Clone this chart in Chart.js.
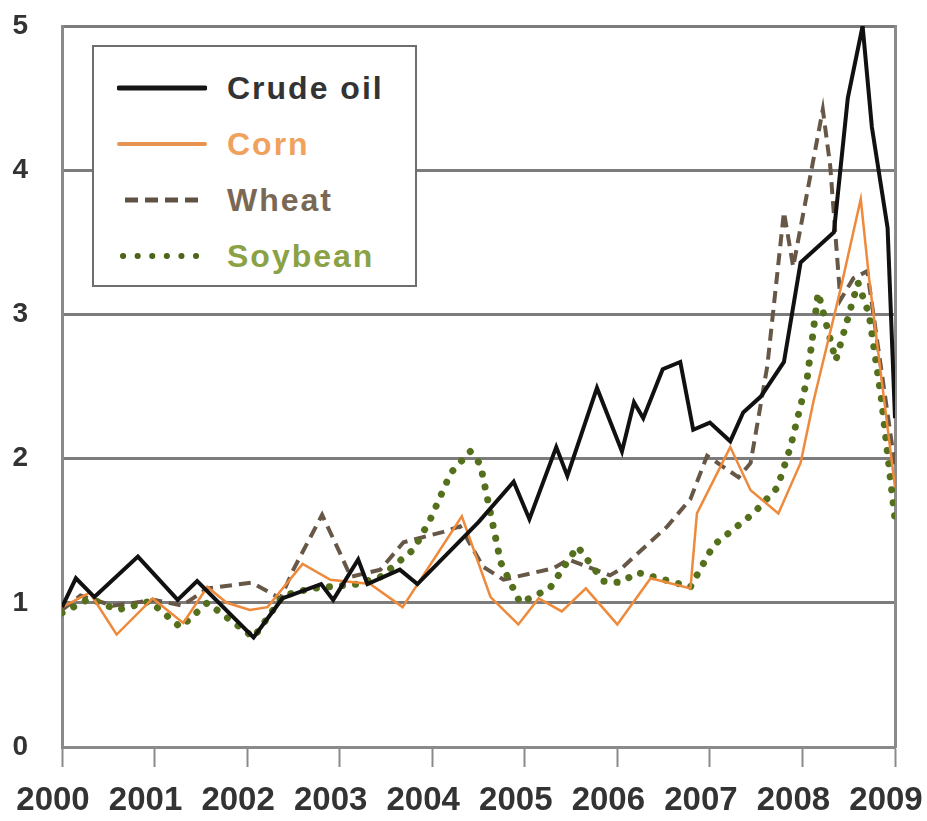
<!DOCTYPE html>
<html>
<head>
<meta charset="utf-8">
<script src="https://cdn.jsdelivr.net/npm/chart.js@4/dist/chart.umd.min.js"></script>
<style>
  html, body { margin: 0; padding: 0; background: #fff; }
  #wrap { position: relative; width: 927px; height: 821px; }
  #legend {
    position: absolute; left: 92px; top: 45px; width: 321px; height: 238px;
    border: 2px solid #6e6e6e; background: #fff;
    font-family: "Liberation Sans", Arial, sans-serif; font-weight: bold;
    font-size: 32px; letter-spacing: 2px;
  }
  .row { position: absolute; left: 0; height: 40px; width: 100%; }
  .row svg { position: absolute; left: 23px; top: 10px; }
  .row span { position: absolute; left: 133px; top: 0; line-height: 40px; }
</style>
</head>
<body>
<div id="wrap">
  <canvas id="c" width="927" height="821"></canvas>
  <div id="legend">
    <div class="row" style="top:21px">
      <svg width="90" height="20"><line x1="2" y1="10" x2="88" y2="10" stroke="#151515" stroke-width="5" stroke-linecap="round"/></svg>
      <span style="color:#333">Crude oil</span>
    </div>
    <div class="row" style="top:77px">
      <svg width="90" height="20"><line x1="2" y1="10" x2="88" y2="10" stroke="#e99350" stroke-width="4" stroke-linecap="round"/></svg>
      <span style="color:#f1a15e">Corn</span>
    </div>
    <div class="row" style="top:133px">
      <svg width="90" height="20"><line x1="8" y1="10" x2="82" y2="10" stroke="#5f5243" stroke-width="5" stroke-dasharray="13 7"/></svg>
      <span style="color:#7a6854">Wheat</span>
    </div>
    <div class="row" style="top:189px">
      <svg width="90" height="20"><line x1="6" y1="10" x2="80" y2="10" stroke="#4d6419" stroke-width="6" stroke-linecap="round" stroke-dasharray="0.1 14.5"/></svg>
      <span style="color:#8aa245">Soybean</span>
    </div>
  </div>
</div>
<script>
// ---- data (years as decimal time, values as index) ----
const yTicks = [0, 1, 2, 3, 4, 5];
const xYears = [2000, 2001, 2002, 2003, 2004, 2005, 2006, 2007, 2008, 2009];

const crudeT = [2000.0, 2000.15, 2000.35, 2000.82, 2001.25, 2001.46, 2002.07, 2002.38, 2002.8, 2002.93, 2003.2, 2003.3, 2003.65, 2003.84, 2004.5, 2004.88, 2005.05, 2005.34, 2005.46, 2005.78, 2006.05, 2006.18, 2006.28, 2006.49, 2006.68, 2006.82, 2007.0, 2007.22, 2007.36, 2007.55, 2007.8, 2007.98, 2008.34, 2008.49, 2008.65, 2008.75, 2008.92, 2009.0];
const crudeV = [0.97, 1.17, 1.04, 1.32, 1.02, 1.15, 0.76, 1.03, 1.13, 1.02, 1.30, 1.13, 1.23, 1.13, 1.56, 1.84, 1.58, 2.08, 1.88, 2.49, 2.05, 2.39, 2.28, 2.62, 2.67, 2.20, 2.25, 2.12, 2.32, 2.43, 2.67, 3.36, 3.57, 4.5, 5.0, 4.3, 3.6, 2.28];

const cornT = [2000.0, 2000.3, 2000.59, 2000.98, 2001.31, 2001.57, 2001.78, 2002.03, 2002.22, 2002.6, 2002.9, 2003.33, 2003.68, 2004.32, 2004.63, 2004.93, 2005.15, 2005.4, 2005.66, 2006.0, 2006.36, 2006.79, 2006.86, 2007.22, 2007.44, 2007.74, 2007.98, 2008.12, 2008.41, 2008.63, 2008.72, 2009.0];
const cornV = [0.97, 1.07, 0.78, 1.03, 0.86, 1.11, 1.0, 0.95, 0.97, 1.27, 1.16, 1.13, 0.97, 1.6, 1.04, 0.85, 1.03, 0.94, 1.1, 0.85, 1.17, 1.1, 1.62, 2.08, 1.78, 1.62, 1.97, 2.4, 3.17, 3.8, 3.25, 1.8];

const wheatT = [2000.0, 2000.2, 2000.55, 2001.0, 2001.3, 2001.57, 2002.05, 2002.36, 2002.5, 2002.81, 2003.0, 2003.12, 2003.44, 2003.69, 2004.11, 2004.3, 2004.55, 2004.77, 2005.31, 2005.47, 2005.92, 2006.03, 2006.54, 2006.79, 2006.97, 2007.31, 2007.44, 2007.62, 2007.8, 2007.9, 2008.22, 2008.3, 2008.41, 2008.55, 2008.7, 2009.0];
const wheatV = [0.95, 1.05, 0.98, 1.02, 0.98, 1.1, 1.14, 1.03, 1.23, 1.61, 1.35, 1.18, 1.23, 1.42, 1.49, 1.53, 1.25, 1.16, 1.24, 1.3, 1.19, 1.23, 1.53, 1.72, 2.02, 1.87, 1.97, 2.64, 3.71, 3.33, 4.42, 4.03, 3.1, 3.25, 3.3, 1.95];

const soyT = [2000.0, 2000.3, 2000.6, 2000.95, 2001.28, 2001.57, 2002.07, 2002.39, 2002.7, 2003.19, 2003.44, 2003.8, 2003.98, 2004.2, 2004.41, 2004.52, 2004.74, 2004.95, 2005.27, 2005.57, 2005.85, 2006.03, 2006.22, 2006.79, 2007.04, 2007.47, 2007.73, 2007.87, 2008.05, 2008.17, 2008.36, 2008.6, 2008.72, 2008.85, 2009.0];
const soyV = [0.93, 1.03, 0.95, 1.01, 0.83, 1.0, 0.76, 1.05, 1.1, 1.13, 1.18, 1.37, 1.58, 1.9, 2.05, 1.96, 1.28, 1.0, 1.1, 1.39, 1.15, 1.14, 1.21, 1.11, 1.4, 1.62, 1.8, 2.08, 2.55, 3.15, 2.68, 3.22, 3.0, 2.43, 1.58];

function pts(t, v) { return t.map((x, i) => ({ x: x, y: v[i] })); }

const gridGray = '#7c7c7c';
const tickFont = { family: '"Liberation Sans", Arial, sans-serif', weight: 'bold' };

new Chart(document.getElementById('c'), {
  type: 'line',
  data: {
    datasets: [
      { label: 'Crude oil', data: pts(crudeT, crudeV), borderColor: '#111111', borderWidth: 4, order: 0, borderJoinStyle: 'miter' },
      { label: 'Corn', data: pts(cornT, cornV), borderColor: '#ee8a3c', borderWidth: 2.5, order: 1 },
      { label: 'Soybean', data: pts(soyT, soyV), borderColor: '#55701c', borderWidth: 7, borderDash: [0.1, 13], borderCapStyle: 'round', order: 2 },
      { label: 'Wheat', data: pts(wheatT, wheatV), borderColor: '#675746', borderWidth: 4, borderDash: [12, 7], order: 3 }
    ]
  },
  options: {
    responsive: false,
    animation: false,
    events: [],
    elements: { point: { radius: 0 }, line: { tension: 0, fill: false } },
    layout: { padding: { top: 26, right: 32, left: 0, bottom: 0 } },
    plugins: { legend: { display: false }, tooltip: { enabled: false } },
    scales: {
      x: {
        type: 'linear', min: 2000, max: 2009,
        afterBuildTicks: (s) => { s.ticks = xYears.map(v => ({ value: v })); },
        afterFit: (s) => { s.height = 74; s.paddingLeft = 0; s.paddingRight = 0; },
        ticks: { callback: (v) => String(v), color: '#333', font: Object.assign({ size: 33 }, tickFont), padding: 14, labelOffset: -9, maxRotation: 0, autoSkip: false },
        grid: { drawOnChartArea: false, drawTicks: true, tickLength: 20, tickColor: '#8a8a8a', tickWidth: 2 },
        border: { color: '#8a8a8a', width: 3 }
      },
      y: {
        min: 0, max: 5,
        afterBuildTicks: (s) => { s.ticks = yTicks.map(v => ({ value: v })); },
        afterFit: (s) => { s.width = 62; s.paddingTop = 0; s.paddingBottom = 0; },
        ticks: { color: '#333', font: Object.assign({ size: 28 }, tickFont), padding: 34 },
        grid: { color: gridGray, lineWidth: 3, drawTicks: false },
        border: { color: '#8a8a8a', width: 3 }
      },
      y2: {
        position: 'right', min: 0, max: 5,
        afterFit: (s) => { s.width = 0; s.paddingTop = 0; s.paddingBottom = 0; },
        ticks: { display: false },
        grid: { drawOnChartArea: false, drawTicks: false },
        border: { color: '#8a8a8a', width: 3 }
      }
    }
  }
});
</script>
</body>
</html>
